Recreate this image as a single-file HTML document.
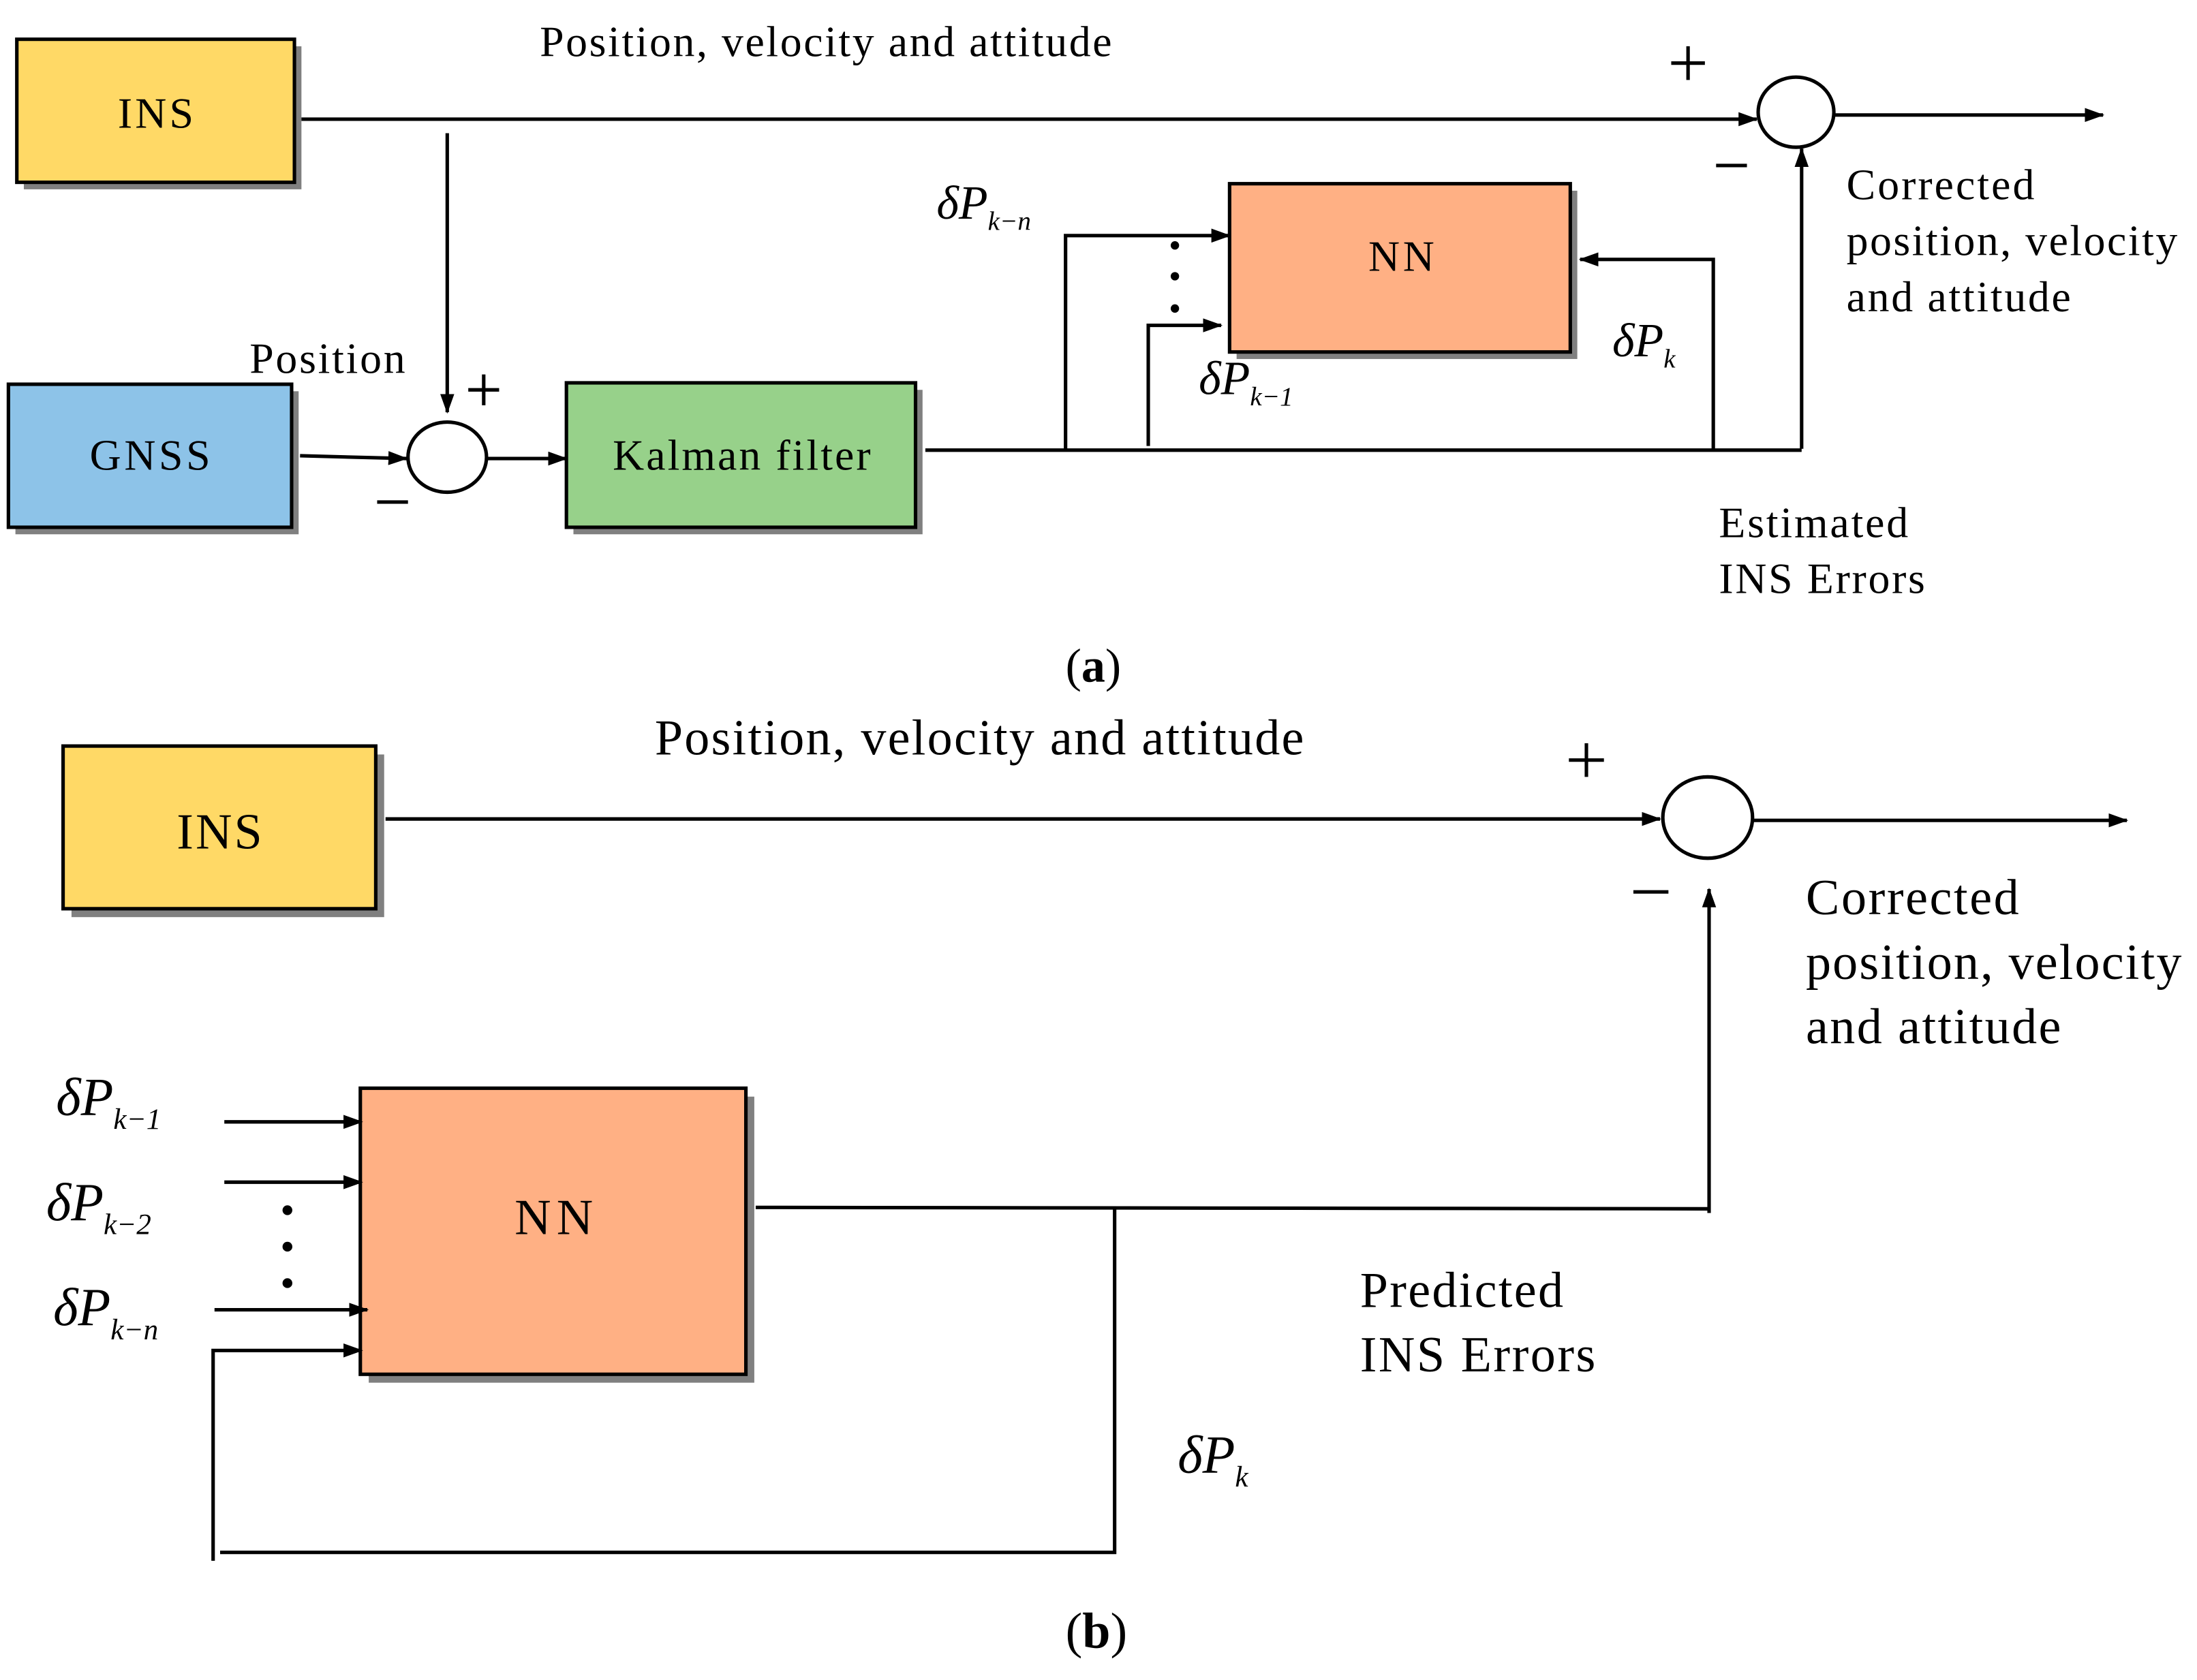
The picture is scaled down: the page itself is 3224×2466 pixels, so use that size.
<!DOCTYPE html>
<html><head><meta charset="utf-8"><style>
html,body{margin:0;padding:0;background:#fff}
svg{display:block}
text{font-family:"Liberation Serif",serif;fill:#000}
</style></head><body>
<svg width="3224" height="2466" viewBox="0 0 1567 1198" preserveAspectRatio="none" xmlns="http://www.w3.org/2000/svg">
<defs>
<marker id="a" markerWidth="14" markerHeight="10" refX="13" refY="5" orient="auto" markerUnits="userSpaceOnUse">
<path d="M0,0 L14,5 L0,10 z" fill="#000"/></marker>
</defs>
<g stroke="#000" stroke-width="2.5" fill="none">
<rect x="17" y="33" width="198" height="102" fill="#808080" stroke="none"/>
<rect x="12" y="28" width="198" height="102" fill="#FFD966"/>
<rect x="11" y="279" width="202" height="102" fill="#808080" stroke="none"/>
<rect x="6" y="274" width="202" height="102" fill="#8DC3E8"/>
<rect x="409" y="278" width="249" height="103" fill="#808080" stroke="none"/>
<rect x="404" y="273" width="249" height="103" fill="#97D18A"/>
<rect x="882" y="136" width="243" height="120" fill="#808080" stroke="none"/>
<rect x="877" y="131" width="243" height="120" fill="#FFB084"/>
<path d="M215,85 H1253" marker-end="url(#a)"/>
<ellipse cx="1281" cy="80" rx="27" ry="25" fill="#fff"/>
<path d="M1308,82 H1500" marker-end="url(#a)"/>
<path d="M1285,320 V106" marker-end="url(#a)"/>
<path d="M319,95 V294" marker-end="url(#a)"/>
<path d="M214,325 L290,327" marker-end="url(#a)"/>
<ellipse cx="319" cy="326" rx="28" ry="25" fill="#fff"/>
<path d="M348,327 H404" marker-end="url(#a)"/>
<path d="M660,321 H1285"/>
<path d="M760,321 V168 H877" marker-end="url(#a)"/>
<path d="M819,318 V232 H871" marker-end="url(#a)"/>
<path d="M1222,321 V185 H1127" marker-end="url(#a)"/>
<rect x="51" y="538" width="223" height="116" fill="#808080" stroke="none"/>
<rect x="45" y="532" width="223" height="116" fill="#FFD966"/>
<rect x="263" y="782" width="275" height="204" fill="#808080" stroke="none"/>
<rect x="257" y="776" width="275" height="204" fill="#FFB084"/>
<path d="M275,584 H1184" marker-end="url(#a)"/>
<ellipse cx="1218" cy="583" rx="32" ry="29" fill="#fff"/>
<path d="M1250,585 H1517" marker-end="url(#a)"/>
<path d="M1219,865 V634" marker-end="url(#a)"/>
<path d="M539,861 L1219,862"/>
<path d="M795,861 V1107 H157"/>
<path d="M152,1113 V963 H258" marker-end="url(#a)"/>
<path d="M160,800 H258" marker-end="url(#a)"/>
<path d="M160,843 H258" marker-end="url(#a)"/>
<path d="M153,934 H262" marker-end="url(#a)"/>
</g>
<g fill="#000">
<circle cx="838" cy="175" r="3"/><circle cx="838" cy="197" r="3"/><circle cx="838" cy="220" r="3"/>
<circle cx="205" cy="863" r="3.5"/><circle cx="205" cy="889" r="3.5"/><circle cx="205" cy="915" r="3.5"/>
</g>
<g font-size="31" lengthAdjust="spacingAndGlyphs">
<text x="84" y="91" textLength="54">INS</text>
<text x="64" y="335" textLength="86">GNSS</text>
<text x="437" y="335" textLength="184">Kalman filter</text>
<text x="976" y="193" textLength="47">NN</text>
<text x="385" y="40" textLength="408">Position, velocity and attitude</text>
<text x="178" y="266" textLength="111">Position</text>
<text x="1317" y="142" textLength="134">Corrected</text>
<text x="1317" y="182" textLength="236">position, velocity</text>
<text x="1317" y="222" textLength="160">and attitude</text>
<text x="1226" y="383" textLength="135">Estimated</text>
<text x="1226" y="423" textLength="147">INS Errors</text>
<text x="760" y="486" font-size="34">(<tspan font-weight="bold">a</tspan>)</text>
</g>
<g fill="none" stroke="#000" stroke-width="2.5">
<path d="M1192,45 H1216 M1204,33 V57"/><path d="M1224,118 H1246"/>
<path d="M334,278 H356 M345,267 V289"/><path d="M269,358 H291"/>
<path d="M1119,542 H1144 M1131.5,530 V554"/><path d="M1165,636 H1190"/>
</g>
<g font-style="italic">
<text x="668" y="156" font-size="34">δ<tspan>P</tspan><tspan font-size="19" dy="8">k−n</tspan></text>
<text x="855" y="281" font-size="34">δ<tspan>P</tspan><tspan font-size="19" dy="8">k−1</tspan></text>
<text x="1150" y="254" font-size="34">δ<tspan>P</tspan><tspan font-size="19" dy="8">k</tspan></text>
<text x="40" y="795" font-size="38">δ<tspan>P</tspan><tspan font-size="21" dy="10">k−1</tspan></text>
<text x="33" y="870" font-size="38">δ<tspan>P</tspan><tspan font-size="21" dy="10">k−2</tspan></text>
<text x="38" y="945" font-size="38">δ<tspan>P</tspan><tspan font-size="21" dy="10">k−n</tspan></text>
<text x="840" y="1050" font-size="38">δ<tspan>P</tspan><tspan font-size="21" dy="10">k</tspan></text>
</g>
<g font-size="36" lengthAdjust="spacingAndGlyphs">
<text x="126" y="605" textLength="61">INS</text>
<text x="367" y="880" textLength="56">NN</text>
<text x="467" y="538" textLength="463">Position, velocity and attitude</text>
<text x="1288" y="652" textLength="152">Corrected</text>
<text x="1288" y="698" textLength="268">position, velocity</text>
<text x="1288" y="744" textLength="182">and attitude</text>
<text x="970" y="932" textLength="145">Predicted</text>
<text x="970" y="978" textLength="168">INS Errors</text>
<text x="760" y="1175" font-size="36">(<tspan font-weight="bold">b</tspan>)</text>
</g>
</svg>
</body></html>
